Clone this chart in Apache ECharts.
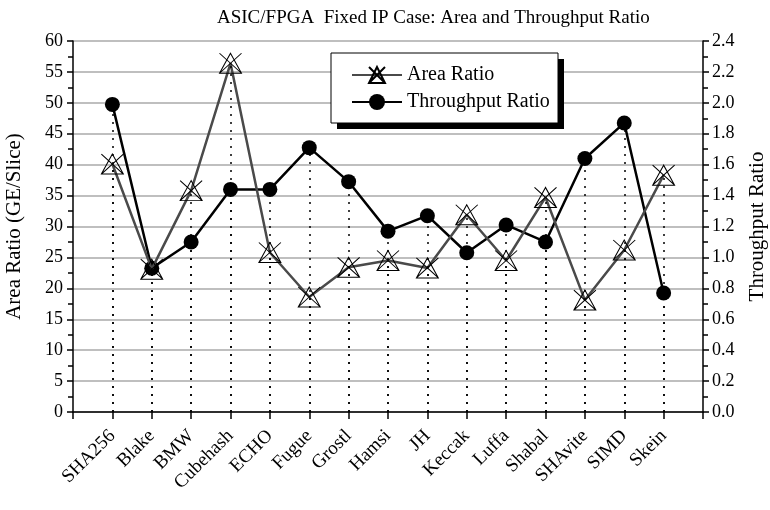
<!DOCTYPE html>
<html>
<head>
    <meta charset="UTF-8">
    <script src="https://cdn.jsdelivr.net/npm/echarts@6/dist/echarts.min.js"></script>
    <style>
        body { margin: 0; background: #fff; }
        #chart { width: 770px; height: 510px; }
    </style>
</head>
<body>
<div id="chart"></div>
<script>
    var categories = ['SHA256', 'Blake', 'BMW', 'Cubehash', 'ECHO', 'Fugue', 'Grostl', 'Hamsi',
        'JH', 'Keccak', 'Luffa', 'Shabal', 'SHAvite', 'SIMD', 'Skein'];
    var areaRatio = [40.1, 23.1, 35.8, 56.4, 25.8, 18.6, 23.4, 24.5, 23.3, 31.9, 24.5, 34.7, 18.1, 26.2, 38.3];
    var throughputRatio = [1.99, 0.93, 1.10, 1.44, 1.44, 1.71, 1.49, 1.17, 1.27, 1.03, 1.21, 1.10, 1.64, 1.87, 0.77];

    var serif = 'Liberation Serif';
    // empty slots at both ends so the ticks sit on the categories
    var xData = [''].concat(categories, ['']);

    function pairs(arr) {
        return arr.map(function (v, i) { return [i + 1, v]; });
    }
    function drops(arr) {
        return arr.map(function (v, i) { return [{coord: [i + 1, 0]}, {coord: [i + 1, v]}]; });
    }
    var dropStyle = {color: '#000', width: 1.5, type: [2, 6]};

    var chart = echarts.init(document.getElementById('chart'));
    var option = {
        animation: false,
        title: {
            text: 'ASIC/FPGA  Fixed IP Case: Area and Throughput Ratio',
            left: 212, top: 4,
            textStyle: {fontFamily: serif, fontSize: 19, fontWeight: 'normal', color: '#000'}
        },
        // legend box with its hard drop shadow
        graphic: [{
            type: 'rect', z: 10,
            shape: {x: 337, y: 59, width: 227, height: 70},
            style: {fill: '#000'}
        }, {
            type: 'rect', z: 11,
            shape: {x: 331, y: 53, width: 227, height: 70},
            style: {fill: '#fff', stroke: '#000', lineWidth: 1}
        }],
        legend: {
            orient: 'vertical',
            left: 351, top: 65,
            padding: 0,
            itemGap: 7,
            itemWidth: 50, itemHeight: 20,
            z: 20,
            textStyle: {fontFamily: serif, fontSize: 20, color: '#000'},
            data: ['Area Ratio', 'Throughput Ratio']
        },
        grid: {left: 73, right: 67, top: 41, bottom: 98, outerBoundsMode: 'none'},
        xAxis: {
            type: 'category',
            boundaryGap: false,
            data: xData,
            axisLine: {lineStyle: {color: '#000', width: 1.5}},
            axisTick: {length: 7, lineStyle: {color: '#000', width: 1.5}, interval: 0},
            axisLabel: {rotate: 45, interval: 0, fontFamily: serif, fontSize: 19, color: '#000', margin: 21},
            splitLine: {show: false}
        },
        yAxis: [{
            type: 'value',
            min: 0, max: 60, interval: 5,
            name: 'Area Ratio (GE/Slice)',
            nameLocation: 'middle', nameGap: 48,
            nameTextStyle: {fontFamily: serif, fontSize: 21, color: '#000'},
            axisLine: {show: true, lineStyle: {color: '#000', width: 1.5}},
            axisTick: {show: true, length: 6, lineStyle: {color: '#000', width: 1.5}},
            minorTick: {show: true, splitNumber: 2, length: 5, lineStyle: {color: '#000', width: 1.5}},
            axisLabel: {fontFamily: serif, fontSize: 18, color: '#000', margin: 10},
            splitLine: {show: true, lineStyle: {color: '#aaa', width: 1.5}}
        }, {
            type: 'value',
            min: 0, max: 2.4, interval: 0.2,
            name: 'Throughput Ratio',
            nameLocation: 'middle', nameGap: 44,
            nameTextStyle: {fontFamily: serif, fontSize: 21, color: '#000'},
            axisLine: {show: true, lineStyle: {color: '#000', width: 1.5}},
            axisTick: {show: true, length: 6, lineStyle: {color: '#000', width: 1.5}},
            minorTick: {show: true, splitNumber: 2, length: 5, lineStyle: {color: '#000', width: 1.5}},
            axisLabel: {
                fontFamily: serif, fontSize: 18, color: '#000', margin: 9,
                formatter: function (v) { return v.toFixed(1); }
            },
            splitLine: {show: false}
        }],
        series: [{
            name: 'Area Ratio',
            type: 'line',
            yAxisIndex: 0,
            data: pairs(areaRatio),
            symbol: 'path://M0,0L22,20M22,0L0,20M11,0L0,20L22,20Z',
            symbolSize: [22, 20],
            lineStyle: {color: '#4a4a4a', width: 2.5},
            itemStyle: {color: 'rgba(0,0,0,0)', borderColor: '#000', borderWidth: 1},
            markLine: {silent: true, symbol: ['none', 'none'], label: {show: false}, lineStyle: dropStyle, data: drops(areaRatio)},
            z: 3
        }, {
            name: 'Throughput Ratio',
            type: 'line',
            yAxisIndex: 1,
            data: pairs(throughputRatio),
            symbol: 'circle',
            symbolSize: 15,
            lineStyle: {color: '#000', width: 2.5},
            itemStyle: {color: '#000'},
            markLine: {silent: true, symbol: ['none', 'none'], label: {show: false}, lineStyle: dropStyle, data: drops(throughputRatio)},
            z: 2
        }]
    };
    chart.setOption(option);
</script>
</body>
</html>
